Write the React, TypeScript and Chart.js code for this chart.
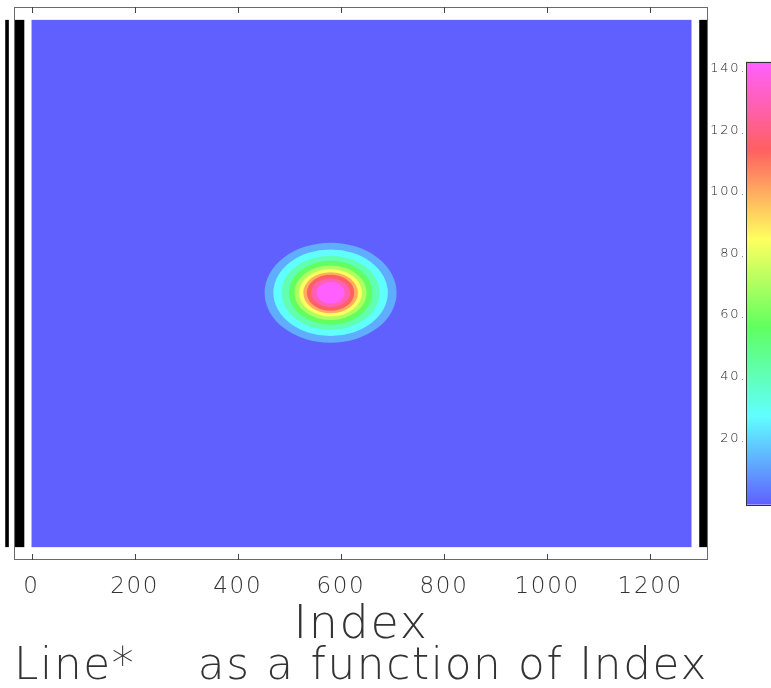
import React, { useEffect, useRef } from "react";
import { Chart, registerables } from "chart.js";

Chart.register(...registerables);

// Axis extents: Index runs along x, Line along y
const indexRange = [-34, 1312];
const lineRange = [-25, 1049];
const indexTicks = [0, 200, 400, 600, 800, 1000, 1200];

// Sensor frame in pixels
const frameIndex = [0, 1280];
const frameLine = [0, 1024];
const backgroundLevel = 0;

// Beam spot: centre and the half-widths of each intensity band
const spotIndex = 580;
const spotLine = 494;
const bandLevels = [14, 29, 43, 58, 72, 86, 101, 115, 130, 144];
const bandHalfWidthIndex = [128, 111, 95, 81, 70, 61, 53, 46, 38, 27];
const bandHalfWidthLine = [97, 84, 72, 62, 53, 46, 40, 35, 28, 21];

// Dark columns at the sides of the frame
const edgeStart = [-51, -32, 1295];
const edgeEnd = [-44, -14, 1310];

// Colour scale
const colorAxisRange = [-18, 161.8];
const colorMin = 0;
const colorMax = 144;
const colorTicks = [20, 40, 60, 80, 100, 120, 140];
const paletteStops = [0, 0.2, 0.4, 0.6, 0.8, 1];
const paletteColors = [
  [96, 96, 255],
  [96, 255, 255],
  [96, 255, 96],
  [255, 255, 96],
  [255, 96, 96],
  [255, 96, 255],
];

const FONT = "'DejaVu Sans', sans-serif";
const TEXT = "#333";
const FRAME = "#6a6a6a";

function colorAt(v: number): string {
  const t = Math.min(1, Math.max(0, (v - colorMin) / (colorMax - colorMin)));
  for (let i = 1; i < paletteStops.length; i++) {
    if (t <= paletteStops[i]) {
      const f = (t - paletteStops[i - 1]) / (paletteStops[i] - paletteStops[i - 1]);
      const a = paletteColors[i - 1];
      const b = paletteColors[i];
      const c = a.map((ch, k) => Math.round(ch + (b[k] - ch) * f));
      return `rgb(${c[0]},${c[1]},${c[2]})`;
    }
  }
  const l = paletteColors[paletteColors.length - 1];
  return `rgb(${l[0]},${l[1]},${l[2]})`;
}

const spacingPlugin = {
  id: "letterSpacing",
  beforeUpdate(chart: any) {
    chart.ctx.letterSpacing = "1.7px";
  },
  beforeDraw(chart: any) {
    chart.ctx.letterSpacing = "1.7px";
  },
};

const imagePlugin = {
  id: "imageLayer",
  beforeDatasetsDraw(chart: any) {
    const { ctx } = chart;
    const x = chart.scales.x;
    const y = chart.scales.y;
    ctx.save();
    const fx0 = x.getPixelForValue(frameIndex[0]);
    const fx1 = x.getPixelForValue(frameIndex[1]);
    const fy0 = y.getPixelForValue(frameLine[0]);
    const fy1 = y.getPixelForValue(frameLine[1]);
    ctx.fillStyle = colorAt(backgroundLevel);
    ctx.fillRect(fx0, fy1, fx1 - fx0, fy0 - fy1);

    const cx = x.getPixelForValue(spotIndex);
    const cy = y.getPixelForValue(spotLine);
    bandLevels.forEach((level, i) => {
      const rx = Math.abs(x.getPixelForValue(spotIndex + bandHalfWidthIndex[i]) - cx);
      const ry = Math.abs(y.getPixelForValue(spotLine + bandHalfWidthLine[i]) - cy);
      ctx.beginPath();
      ctx.ellipse(cx, cy, rx, ry, 0, 0, Math.PI * 2);
      ctx.fillStyle = colorAt(level);
      ctx.fill();
    });

    ctx.fillStyle = "#000";
    edgeStart.forEach((s, i) => {
      const a = x.getPixelForValue(s);
      const b = x.getPixelForValue(edgeEnd[i]);
      ctx.fillRect(a, fy1, b - a, fy0 - fy1);
    });
    ctx.restore();
  },
};

const framePlugin = {
  id: "frameAndBar",
  afterDatasetsDraw(chart: any) {
    const { ctx, chartArea } = chart;
    const x = chart.scales.x;
    const cb = chart.scales.cb;
    ctx.save();
    ctx.strokeStyle = FRAME;
    ctx.lineWidth = 1;
    ctx.strokeRect(
      Math.round(chartArea.left) + 0.5,
      Math.round(chartArea.top) + 0.5,
      Math.round(chartArea.right - chartArea.left) - 1,
      Math.round(chartArea.bottom - chartArea.top) - 1
    );
    // inward tick marks, bottom and top
    ctx.strokeStyle = "#444";
    ctx.beginPath();
    x.ticks.forEach((t: any) => {
      const px = Math.round(x.getPixelForValue(t.value)) + 0.5;
      ctx.moveTo(px, chartArea.bottom);
      ctx.lineTo(px, chartArea.bottom - 6);
      ctx.moveTo(px, chartArea.top);
      ctx.lineTo(px, chartArea.top + 6);
    });
    ctx.stroke();

    // colour bar
    const y0 = cb.getPixelForValue(colorMin);
    const y1 = cb.getPixelForValue(colorMax);
    const left = Math.round(cb.right);
    const grad = ctx.createLinearGradient(0, y0, 0, y1);
    paletteStops.forEach((s, i) => {
      const c = paletteColors[i];
      grad.addColorStop(s, `rgb(${c[0]},${c[1]},${c[2]})`);
    });
    ctx.fillStyle = grad;
    ctx.fillRect(left, y1, 40, y0 - y1);
    ctx.strokeStyle = "#333";
    ctx.strokeRect(left + 0.5, Math.round(y1) + 0.5, 40, Math.round(y0 - y1));
    ctx.restore();
  },
};

export default function App() {
  const ref = useRef<HTMLCanvasElement | null>(null);

  useEffect(() => {
    if (!ref.current) return;
    const chart = new Chart(ref.current, {
      type: "scatter",
      data: { datasets: [{ data: [] }] },
      plugins: [spacingPlugin, imagePlugin, framePlugin],
      options: {
        animation: false,
        responsive: false,
        devicePixelRatio: 1,
        layout: { padding: { left: 14, top: 7, right: 25, bottom: 0 } },
        plugins: {
          legend: { display: false },
          tooltip: { enabled: false },
          title: {
            display: true,
            text: "Line*    as a function of Index",
            position: "bottom",
            fullSize: false,
            color: TEXT,
            font: { family: FONT, size: 44, weight: 200, lineHeight: 0.8 },
            padding: { top: 1, bottom: 2.8 },
          },
        },
        scales: {
          x: {
            type: "linear",
            position: "bottom",
            min: indexRange[0],
            max: indexRange[1],
            grid: { display: false, drawTicks: false, tickLength: 0 },
            border: { display: false },
            afterBuildTicks: (s: any) => {
              s.ticks = indexTicks.map((v) => ({ value: v }));
            },
            afterFit: (s: any) => {
              s.height = 89;
              s.paddingLeft = 0;
              s.paddingRight = 0;
            },
            ticks: {
              color: TEXT,
              font: { family: FONT, size: 23, weight: 200 },
              padding: 13,
              maxRotation: 0,
              autoSkip: false,
              callback: (v: any) => String(v),
            },
            title: {
              display: true,
              text: "Index",
              color: TEXT,
              font: { family: FONT, size: 46, weight: 200, lineHeight: 1 },
              padding: { top: 0, bottom: 0 },
            },
          },
          y: {
            type: "linear",
            display: false,
            min: lineRange[0],
            max: lineRange[1],
          },
          cb: {
            type: "linear",
            position: "right",
            min: colorAxisRange[0],
            max: colorAxisRange[1],
            grid: { display: false, drawTicks: false, tickLength: 0 },
            border: { display: false },
            afterBuildTicks: (s: any) => {
              s.ticks = colorTicks.map((v) => ({ value: v }));
            },
            afterFit: (s: any) => {
              s.width = 38;
              s.paddingTop = 0;
              s.paddingBottom = 0;
            },
            ticks: {
              color: "#222",
              font: { family: FONT, size: 13, weight: 200 },
              padding: 3,
              crossAlign: "far",
              labelOffset: -5,
              callback: (v: any) => `${v}.`,
            },
          },
        },
      } as any,
    });
    return () => chart.destroy();
  }, []);

  return (
    <div style={{ position: "absolute", left: 0, top: 0, width: 771, height: 688, background: "#fff" }}>
      <canvas ref={ref} width={771} height={688} style={{ width: 771, height: 688, display: "block" }} />
    </div>
  );
}
